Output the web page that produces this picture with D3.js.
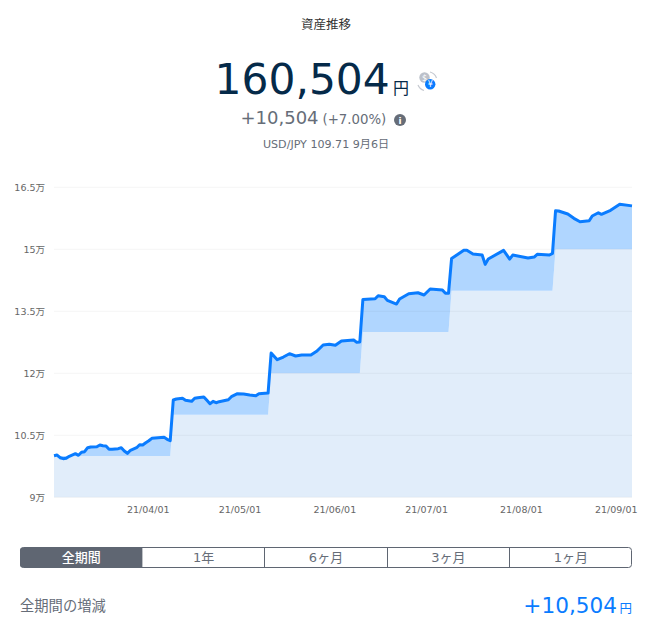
<!DOCTYPE html>
<html lang="ja">
<head>
<meta charset="utf-8">
<title>資産推移</title>
<script src="https://cdn.jsdelivr.net/npm/d3@7/dist/d3.min.js"></script>
<style>
  html, body { margin: 0; padding: 0; background: #fff; }
  svg { display: block; }
  text { font-family: "DejaVu Sans", "Noto Sans CJK JP", sans-serif; }
  .tick line, .domain { display: none; }
  .tick text { font-size: 9.5px; fill: #666; }
</style>
</head>
<body>
<svg id="chart" width="666" height="631"></svg>
<script>
// Portfolio valuation, in yen, by date (2021)
const dates = [
  "03-01","03-02","03-03","03-04","03-05","03-06","03-08","03-09","03-10","03-11","03-12","03-13","03-15","03-16","03-17","03-18","03-19","03-20","03-22","03-23","03-24","03-25","03-26","03-28","03-29","03-30","03-31",
  "04-01","04-02","04-04","04-06","04-07","04-08","04-09","04-10","04-12","04-13","04-15","04-16","04-17","04-19","04-20","04-21","04-22","04-23","04-24","04-27","04-28","04-30",
  "05-02","05-04","05-06","05-07","05-10","05-11","05-13","05-15","05-17","05-19","05-21","05-24","05-26","05-28","05-30",
  "06-01","06-03","06-07","06-08","06-09","06-10","06-14","06-15","06-17","06-18","06-21","06-22","06-25","06-28","06-30",
  "07-02","07-06","07-07","07-08","07-09","07-13","07-14","07-16","07-19","07-20","07-21","07-26","07-28","07-29",
  "08-03","08-05","08-06","08-10","08-11","08-12","08-13","08-16","08-18","08-20","08-23","08-24","08-26","08-27","08-30",
  "09-02","09-06"
];
const totals = [
  100060,100230,99580,99340,99430,99920,100550,100160,100890,101030,102000,102170,102240,102650,102480,102410,101610,101610,101760,102000,101200,100640,101370,101990,102720,102650,103210,
  103690,104270,104420,104510,104030,103690,113540,113780,113950,113460,113220,113950,114090,114260,113460,112640,113220,112880,113130,113610,114340,115060,
  114990,114750,114580,115060,115230,124910,123290,123940,124740,124180,124420,124420,125390,126840,127010,
  126770,127810,128050,127490,127570,137850,138040,138770,138530,137650,136760,137970,139250,139490,138940,
  140390,140150,139350,139350,147770,149750,149750,148860,148610,146360,147640,149750,147640,148610,
  147890,148130,148780,148610,149020,159330,159260,158530,157490,156670,156910,158050,158850,158460,159430,
  160880,160504
];

// Cumulative amount paid in, in yen
const investedDates = ["03-01","04-08","04-09","05-10","05-11","06-09","06-10","07-08","07-09","08-11","08-12","09-06"];
const investedValues = [100000,100000,110000,110000,120000,120000,130000,130000,140000,140000,150000,150000];

const yTicks = [90000,105000,120000,135000,150000,165000];
const xTickDates = ["04-01","05-01","06-01","07-01","08-01","09-01"];
const periods = ["全期間","1年","6ヶ月","3ヶ月","1ヶ月"];

const parse = s => new Date(2021, +s.slice(0, 2) - 1, +s.slice(3));
const valuation = dates.map((d, i) => ({ date: parse(d), value: totals[i] }));
const invested = investedDates.map((d, i) => ({ date: parse(d), value: investedValues[i] }));

const svg = d3.select("#chart");
const plot = { left: 54, right: 632, top: 187.3, bottom: 497.3 };

const x = d3.scaleTime().domain([parse("03-01"), parse("09-06")]).range([plot.left, plot.right]);
const y = d3.scaleLinear().domain([90000, 165000]).range([plot.bottom, plot.top]);

// Header block
const ink = "#052a49", muted = "#666d78", blue = "#0a7cff";
function label(sel, px, py, str, size, fill, anchor = "start", weight = 400) {
  return sel.append("text").attr("x", px).attr("y", py).attr("font-size", size)
    .attr("fill", fill).attr("text-anchor", anchor).attr("font-weight", weight).text(str);
}
label(svg, 326, 29, "資産推移", 12.5, "#333", "middle");
label(svg, 214.5, 94, "160,504", 42.4, ink);
label(svg, 393, 94, "円", 16, ink);
label(svg, 240.5, 124, "+10,504", 18, muted);
label(svg, 322.5, 124, "(+7.00%)", 13.3, muted);
label(svg, 326, 148, "USD/JPY 109.71 9月6日", 11.1, muted, "middle");

// Info badge
const info = svg.append("g").attr("transform", "translate(400,120)");
info.append("circle").attr("r", 6).attr("fill", muted);
label(info, 0, 4, "i", 9, "#fff", "middle", 700);

// Currency switch badge
const fx = svg.append("g").attr("transform", "translate(427,81)");
fx.append("path").attr("d", "M 3 -9 A 9.5 9.5 0 0 1 9.5 -3 M -9 4 A 9.5 9.5 0 0 0 -3 9.5")
  .attr("fill", "none").attr("stroke", "#c5c9d0").attr("stroke-width", 1.2);
fx.append("circle").attr("cx", -2.5).attr("cy", -3.5).attr("r", 5.2).attr("fill", "#bcc1ca");
label(fx, -2.5, -0.5, "$", 8, "#fff", "middle", 400);
fx.append("circle").attr("cx", 3.2).attr("cy", 3.2).attr("r", 5.2).attr("fill", blue);
label(fx, 3.2, 6.2, "¥", 8, "#fff", "middle", 400);

// Filled bands: paid-in amount down to the baseline, gain up to the valuation
const lowerArea = d3.area().x(d => x(d.date)).y0(plot.bottom).y1(d => y(d.value));
const paidAt = date => {
  const i = d3.bisector(d => d.date).right(invested, date) - 1;
  return invested[Math.max(0, i)].value;
};
const merged = Array.from(new Set(valuation.map(d => +d.date).concat(invested.map(d => +d.date))))
  .sort(d3.ascending).map(t => new Date(t));
const valueAt = date => {
  const i = d3.bisector(d => d.date).left(valuation, date);
  if (+valuation[i].date === +date || i === 0) return valuation[i].value;
  const a = valuation[i - 1], b = valuation[i];
  return d3.interpolateNumber(a.value, b.value)((date - a.date) / (b.date - a.date));
};
const gainArea = d3.area().x(d => x(d)).y0(d => y(paidAt(d))).y1(d => y(valueAt(d)));

svg.append("path").datum(invested).attr("d", lowerArea).attr("fill", "#e1edfa");
svg.append("path").datum(merged).attr("d", gainArea).attr("fill", "#b0d6ff");

// Grid
svg.append("g").selectAll("line").data(yTicks).join("line")
  .attr("x1", plot.left).attr("x2", plot.right)
  .attr("y1", d => y(d)).attr("y2", d => y(d))
  .attr("stroke", "#000").attr("stroke-opacity", 0.045);

// Valuation line
const line = d3.line().x(d => x(d.date)).y(d => y(d.value));
svg.append("path").datum(valuation).attr("d", line)
  .attr("fill", "none").attr("stroke", blue).attr("stroke-width", 3).attr("stroke-linejoin", "round");

// Axes
svg.append("g").attr("transform", `translate(${plot.left - 9},0)`)
  .call(d3.axisLeft(y).tickValues(yTicks).tickSize(0).tickPadding(0).tickFormat(d => `${d / 10000}万`));
svg.append("g").attr("transform", `translate(-1,${plot.bottom + 6})`)
  .call(d3.axisBottom(x).tickValues(xTickDates.map(parse)).tickSize(0).tickPadding(3)
    .tickFormat(d3.timeFormat("%y/%m/%d")));

// Period selector
const bar = { left: 20, right: 632, top: 547.5, bottom: 567.5 };
const band = d3.scaleBand().domain(periods).range([bar.left, bar.right]);
const selector = svg.append("g");
selector.append("rect").attr("x", bar.left + .5).attr("y", bar.top)
  .attr("width", bar.right - bar.left - 1).attr("height", bar.bottom - bar.top).attr("rx", 3)
  .attr("fill", "#fff").attr("stroke", "#5f6672");
selector.append("path")
  .attr("d", `M${bar.left + 3},${bar.top} H${band(periods[1])} V${bar.bottom} H${bar.left + 3} Q${bar.left},${bar.bottom} ${bar.left},${bar.bottom - 3} V${bar.top + 3} Q${bar.left},${bar.top} ${bar.left + 3},${bar.top} Z`)
  .attr("fill", "#5f6672");
selector.selectAll("line").data(periods.slice(2)).join("line")
  .attr("x1", d => Math.floor(band(d)) + .5).attr("x2", d => Math.floor(band(d)) + .5)
  .attr("y1", bar.top).attr("y2", bar.bottom).attr("stroke", "#5f6672");
selector.selectAll("text").data(periods).join("text")
  .attr("x", d => band(d) + band.bandwidth() / 2).attr("y", 561.8)
  .attr("text-anchor", "middle").attr("font-size", 13)
  .attr("font-weight", (d, i) => i === 0 ? 500 : 400)
  .attr("fill", (d, i) => i === 0 ? "#fff" : muted).text(d => d);

// Period change summary
label(svg, 20, 611, "全期間の増減", 14.3, muted);
label(svg, 617, 613, "+10,504", 21.6, blue, "end");
label(svg, 632, 612.5, "円", 12.5, blue, "end");
</script>
</body>
</html>
